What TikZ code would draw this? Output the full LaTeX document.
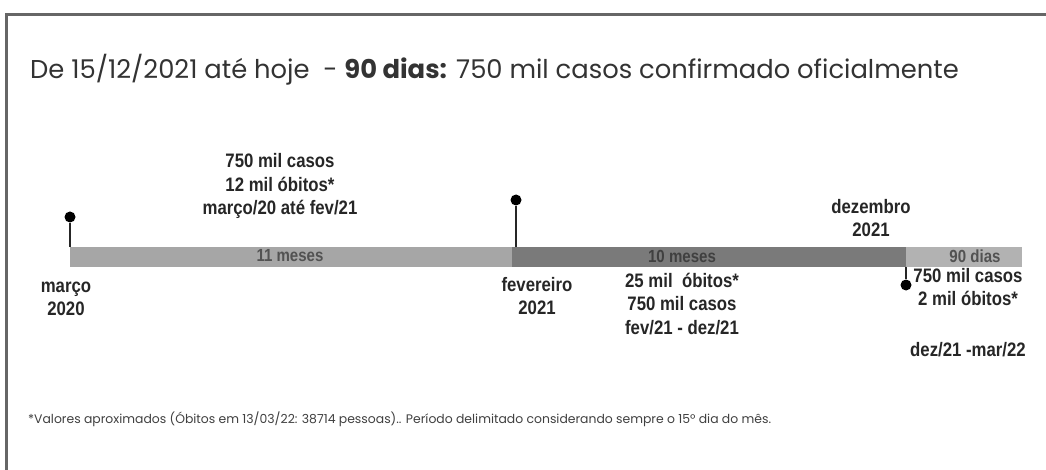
\documentclass[tikz,border=0pt]{standalone}
\usepackage{fontspec}
\setmainfont{Poppins}
\newfontfamily\lbl[FakeStretch=0.86]{Liberation Sans}
\begin{document}
\begin{tikzpicture}[x=1pt,y=-1pt,
  lab/.style={font=\lbl\bfseries\fontsize{19.5}{23.5}\selectfont, align=center, inner sep=0pt, text=black!85},
  bartxt/.style={font=\lbl\bfseries\fontsize{17.5}{18}\selectfont, inner sep=0pt, text=black!68},
  dotm/.style={circle, fill=black, inner sep=0pt, minimum size=11pt},
  stem/.style={line width=1.8pt, black!85}]
\useasboundingbox (0,0) rectangle (1046,470);
\fill[white] (0,0) rectangle (1046,470);
% frame
\draw[line width=3pt, black!60] (6,470) -- (6,15) -- (1046,15);
% title
\node[anchor=west, inner sep=0pt, font=\fontsize{25.8}{28}\selectfont, text=black!80] (title) at (30,70)
  {De 15/12/2021 até hoje \ - \textbf{90 dias:} 750 mil casos confirmado oficialmente};
% bar segments
\fill[black!35] (70,247) rectangle (512,267);
\fill[black!52] (512,247) rectangle (906,267);
\fill[black!30] (906,247) rectangle (1022,267);
\node[bartxt] (s1) at (290,256) {11 meses};
\node[bartxt, text=black!75] (s2) at (682,256) {10 meses};
\node[bartxt] (s3) at (975,256) {90 dias};
% markers
\node[dotm] (d1) at (70,217) {};
\coordinate (b1) at (70,247);
\draw[stem] (d1) -- (b1);
\node[dotm] (d2) at (516,200) {};
\coordinate (b2) at (516,247);
\draw[stem] (d2) -- (b2);
\node[dotm] (d3) at (906,285) {};
\coordinate (b3) at (906,267);
\draw[stem] (b3) -- (d3);
% labels
\node[lab] (l1) at (280,186) {750 mil casos\\12 mil óbitos*\\março/20 até fev/21};
\node[lab] (l2) at (66,299) {março\\2020};
\node[lab] (l3) at (537,296) {fevereiro\\2021};
\node[lab] (l4) at (682,304) {25 mil \ óbitos*\\750 mil casos\\fev/21 - dez/21};
\node[lab] (l5) at (871,218) {dezembro\\2021};
\node[lab] (l6) at (968,287) {750 mil casos\\2 mil óbitos*};
\node[lab] (l7) at (968,350) {dez/21 -mar/22};
% footnote
\node[anchor=west, inner sep=0pt, font=\fontsize{12.4}{14}\selectfont, text=black!75] (fn) at (28,419)
  {*Valores aproximados (Óbitos em 13/03/22: 38714 pessoas).. Período delimitado considerando sempre o 15º dia do mês.};
\end{tikzpicture}
\end{document}
